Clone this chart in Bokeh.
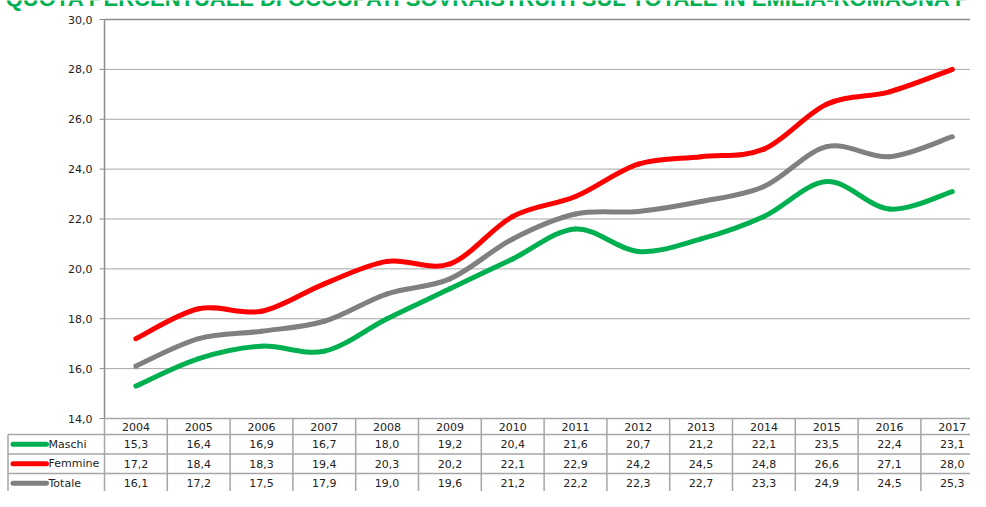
from bokeh.plotting import figure
from bokeh.models import Range1d, ColumnDataSource
from bokeh.embed import file_html
from bokeh.resources import INLINE
from bokeh.core.properties import value

# ---------------- data ----------------
years = [2004, 2005, 2006, 2007, 2008, 2009, 2010, 2011, 2012, 2013, 2014, 2015, 2016, 2017]
maschi = [15.3, 16.4, 16.9, 16.7, 18.0, 19.2, 20.4, 21.6, 20.7, 21.2, 22.1, 23.5, 22.4, 23.1]
femmine = [17.2, 18.4, 18.3, 19.4, 20.3, 20.2, 22.1, 22.9, 24.2, 24.5, 24.8, 26.6, 27.1, 28.0]
totale = [16.1, 17.2, 17.5, 17.9, 19.0, 19.6, 21.2, 22.2, 22.3, 22.7, 23.3, 24.9, 24.5, 25.3]
series_names = ["Maschi", "Femmine", "Totale"]
series_colors = ["#00B050", "#FF0000", "#808080"]
y_ticks = [14, 16, 18, 20, 22, 24, 26, 28, 30]
y_tick_labels = ["14,0", "16,0", "18,0", "20,0", "22,0", "24,0", "26,0", "28,0", "30,0"]
title_text = "QUOTA PERCENTUALE DI OCCUPATI SOVRAISTRUITI SUL TOTALE IN EMILIA-ROMAGNA PER GENERE"

# ---------------- layout constants (pixels) ----------------
W, H = 970, 491
AXIS_X = 104            # y-axis / first table column boundary
COL = 62.8              # px per year column
X_FIRST = AXIS_X + COL / 2
Y_TOP = 19              # pixel row of the top gridline
Y_BOTTOM = 418          # pixel row of the bottom gridline
PX_UNIT = (Y_BOTTOM - Y_TOP) / (y_ticks[-1] - y_ticks[0])
HEADER_H = 16
ROW_H = 19.5
TABLE_LEFT = 7.5
FONT = "DejaVu Sans"
GRID = "#a6a6a6"
AXIS = "#8c8c8c"
TXT = "#222222"


def X(px):
    return years[0] + (px - X_FIRST) / COL


def Y(py):
    return y_ticks[-1] - (py - Y_TOP) / PX_UNIT


p = figure(width=W, height=H, output_backend="svg", toolbar_location=None,
           x_range=Range1d(X(0), X(W)), y_range=Range1d(Y(H), Y(0)),
           x_axis_location=None, y_axis_location=None,
           min_border_left=0, min_border_right=0, min_border_top=0, min_border_bottom=0)
p.grid.visible = False
p.outline_line_color = None
p.background_fill_color = "white"
p.border_fill_color = "white"

x_right = X(W)
y_bottom = Y(H)

# ---------------- title (cut at the top edge, as in the reference) ----------------
p.text(x=[X(553)], y=[Y(10)], text=[title_text], text_font=value("Liberation Sans"),
       text_font_style="bold", text_font_size="22px", text_color="#00B050",
       text_align="center", text_baseline="bottom")

# ---------------- y axis ----------------
n = len(y_ticks)
p.segment(x0=[X(AXIS_X)] * (n - 2), x1=[x_right] * (n - 2), y0=y_ticks[1:-1], y1=y_ticks[1:-1],
          line_color=GRID, line_width=1)
p.segment(x0=[X(AXIS_X)], x1=[x_right], y0=[y_ticks[-1]], y1=[y_ticks[-1]],
          line_color=AXIS, line_width=1.5)
p.segment(x0=[X(AXIS_X - 5)] * n, x1=[X(AXIS_X)] * n, y0=y_ticks, y1=y_ticks,
          line_color=AXIS, line_width=1)
p.segment(x0=[X(AXIS_X)], x1=[X(AXIS_X)], y0=[y_ticks[-1]], y1=[y_ticks[0]],
          line_color=AXIS, line_width=1.5)
p.text(x=[X(AXIS_X - 12)] * n, y=y_ticks, text=y_tick_labels, text_font=value(FONT),
       text_font_size="11px", text_color=TXT, text_align="right", text_baseline="middle")

# ---------------- series (smoothed lines) ----------------


def bezier_parts(xs, ys):
    m = len(xs)
    out = dict(x0=[], y0=[], x1=[], y1=[], cx0=[], cy0=[], cx1=[], cy1=[])
    for i in range(m - 1):
        a = max(i - 1, 0)
        d = min(i + 2, m - 1)
        out["x0"].append(xs[i]); out["y0"].append(ys[i])
        out["x1"].append(xs[i + 1]); out["y1"].append(ys[i + 1])
        out["cx0"].append(xs[i] + (xs[i + 1] - xs[a]) / 6.0)
        out["cy0"].append(ys[i] + (ys[i + 1] - ys[a]) / 6.0)
        out["cx1"].append(xs[i + 1] - (xs[d] - xs[i]) / 6.0)
        out["cy1"].append(ys[i + 1] - (ys[d] - ys[i]) / 6.0)
    return out


for vals, col in zip([totale, maschi, femmine], [series_colors[2], series_colors[0], series_colors[1]]):
    src = ColumnDataSource(bezier_parts(years, vals))
    p.bezier(x0="x0", y0="y0", x1="x1", y1="y1", cx0="cx0", cy0="cy0", cx1="cx1", cy1="cy1",
             source=src, line_color=col, line_width=5, line_cap="round")

# ---------------- data table ----------------
header_bottom = Y_BOTTOM + HEADER_H
row_tops = [header_bottom + i * ROW_H for i in range(3)]
row_mid = [Y(t + ROW_H / 2) for t in row_tops]

# top line of table (bottom of plot area)
p.segment(x0=[X(AXIS_X)], x1=[x_right], y0=[y_ticks[0]], y1=[y_ticks[0]], line_color=GRID, line_width=1.5)
# row separators (spanning also the legend column)
p.segment(x0=[X(TABLE_LEFT)] * 3, x1=[x_right] * 3, y0=[Y(t) for t in row_tops], y1=[Y(t) for t in row_tops],
          line_color=GRID, line_width=1.5)
# column separators
cx = [y - 0.5 for y in years]
p.segment(x0=cx, x1=cx, y0=[y_ticks[0]] * len(cx), y1=[y_bottom] * len(cx), line_color=GRID, line_width=1.5)
p.segment(x0=[X(TABLE_LEFT)], x1=[X(TABLE_LEFT)], y0=[Y(header_bottom)], y1=[y_bottom],
          line_color=GRID, line_width=1.5)

# header: years
p.text(x=years, y=[Y(Y_BOTTOM + HEADER_H / 2)] * len(years), text=[str(y) for y in years],
       text_font=value(FONT), text_font_size="11px", text_color=TXT,
       text_align="center", text_baseline="middle")

# legend keys + names
p.segment(x0=[X(12.5)] * 3, x1=[X(46)] * 3, y0=row_mid, y1=row_mid, line_color=series_colors,
          line_width=5, line_cap="round")
p.text(x=[X(48)] * 3, y=row_mid, text=series_names, text_font=value(FONT),
       text_font_size="11px", text_color=TXT, text_align="left", text_baseline="middle")

# values
for vals, ry in zip([maschi, femmine, totale], row_mid):
    labels = [f"{v:.1f}".replace(".", ",") for v in vals]
    p.text(x=years, y=[ry] * len(years), text=labels, text_font=value(FONT),
           text_font_size="11px", text_color=TXT, text_align="center", text_baseline="middle")

open("out.html", "w").write(file_html(p, INLINE))
